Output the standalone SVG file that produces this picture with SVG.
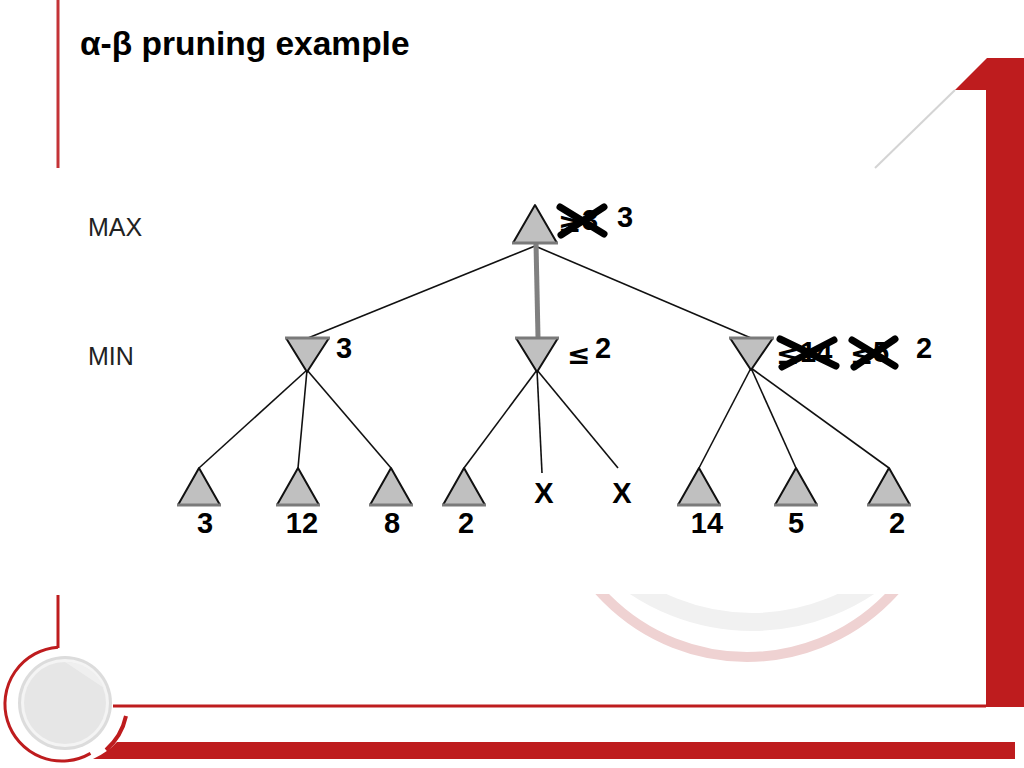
<svg xmlns="http://www.w3.org/2000/svg" width="1024" height="768" viewBox="0 0 1024 768">
<style>
.red{fill:#be1c1e}
.tri{fill:#c0c0c0;stroke:#111;stroke-width:2;stroke-linejoin:round}
.base{stroke:#7a7a7a;stroke-width:3}
.edge{stroke:#111;stroke-width:1.6;fill:none}
.lbl{font-family:"Liberation Sans",Arial,sans-serif;font-weight:bold;font-size:29px;fill:#000}
.sym{font-family:"DejaVu Sans",sans-serif;font-weight:bold;font-size:28px;fill:#000}
.lvl{font-family:"Liberation Sans",Arial,sans-serif;font-size:25px;fill:#222}
.cross{stroke:#000;stroke-width:7;stroke-linecap:round}
</style>
<defs>
<clipPath id="bgclip"><rect x="0" y="594" width="1024" height="120"/></clipPath>
</defs>
<rect width="1024" height="768" fill="#ffffff"/>
<g id="decor">
<line x1="58" y1="0" x2="58" y2="168" stroke="#c43337" stroke-width="3"/>
<polygon class="red" points="955,90 987,58 1024,58 1024,707 986,707 986,90"/>
<line x1="955" y1="90" x2="875" y2="168" stroke="#d4d4d4" stroke-width="2"/>
<g clip-path="url(#bgclip)">
<circle cx="752" cy="411" r="211" fill="none" stroke="#f1f1f1" stroke-width="18"/>
<circle cx="747" cy="459" r="198" fill="none" stroke="#efd2d2" stroke-width="10"/>
</g>
<rect class="red" x="113" y="704.5" width="873" height="3"/>
<path class="red" d="M117 742 L1015 742 L1015 759 L93 759 Q108 752 117 742 Z"/>
<line x1="58" y1="595" x2="58" y2="648" stroke="#be1c1e" stroke-width="3"/>
<path d="M58 647.2 A57 57 0 1 0 90.5 753.4" fill="none" stroke="#be1c1e" stroke-width="3"/>
<path d="M126 716 A63 63 0 0 1 106 750" fill="none" stroke="#be1c1e" stroke-width="4"/>
<circle cx="65" cy="703" r="47" fill="#dcdcdc"/>
<circle cx="65" cy="703" r="44" fill="#f4f4f4"/>
<circle cx="65" cy="703" r="41" fill="#e6e6e6"/>
<path d="M65 662 L104 688 A41 41 0 0 0 65 662 Z" fill="#efefef"/>
</g>
<text x="80" y="55" font-family="'Liberation Sans',Arial,sans-serif" font-weight="bold" font-size="33.5" fill="#000">α-β pruning example</text>
<text class="lvl" x="88" y="236">MAX</text>
<text class="lvl" x="88" y="365">MIN</text>
<g id="connectors">
<line class="edge" x1="535" y1="246" x2="308" y2="338"/>
<line class="edge" x1="535" y1="246" x2="751" y2="338"/>
<line x1="536" y1="243" x2="538" y2="337" stroke="#808080" stroke-width="5"/>
<line class="edge" x1="307" y1="370" x2="199" y2="468"/>
<line class="edge" x1="307" y1="370" x2="298" y2="468"/>
<line class="edge" x1="307" y1="370" x2="391" y2="468"/>
<line class="edge" x1="537" y1="370" x2="464" y2="468"/>
<line class="edge" x1="537" y1="370" x2="542" y2="473"/>
<line class="edge" x1="537" y1="370" x2="618" y2="468"/>
<line class="edge" x1="751" y1="368" x2="699" y2="468"/>
<line class="edge" x1="751" y1="368" x2="796" y2="468"/>
<line class="edge" x1="751" y1="368" x2="889" y2="468"/>
</g>
<g id="root">
<polygon class="tri" points="535,205 557,243 513,243"/>
<line class="base" x1="512" y1="243" x2="558" y2="243"/>
<text class="sym" x="558" y="232">≥</text>
<text class="lbl" x="582" y="230">3</text>
<line class="cross" x1="560" y1="207" x2="604" y2="234"/>
<line class="cross" x1="561" y1="235" x2="604" y2="207"/>
<text class="lbl" x="617" y="227">3</text>
</g>
<g id="min1">
<polygon class="tri" points="286,338 329,338 307,372"/>
<line class="base" x1="285" y1="338" x2="330" y2="338"/>
<text class="lbl" x="336" y="358">3</text>
</g>
<g id="min2">
<polygon class="tri" points="516,338 558,338 537,372"/>
<line class="base" x1="515" y1="338" x2="559" y2="338"/>
<text class="sym" x="567" y="364" font-size="36">≤</text>
<text class="lbl" x="595" y="358">2</text>
</g>
<g id="min3">
<polygon class="tri" points="730,338 773,338 751,370"/>
<line class="base" x1="729" y1="338" x2="774" y2="338"/>
<text class="sym" x="776" y="364">≤</text>
<text class="lbl" x="800" y="362">14</text>
<line class="cross" x1="780" y1="339" x2="836" y2="366"/>
<line class="cross" x1="782" y1="367" x2="834" y2="340"/>
<text class="sym" x="850" y="364">≤</text>
<text class="lbl" x="873" y="362">5</text>
<line class="cross" x1="852" y1="340" x2="895" y2="366"/>
<line class="cross" x1="854" y1="367" x2="895" y2="339"/>
<text class="lbl" x="916" y="358">2</text>
</g>
<g id="leaf1"><polygon class="tri" points="199,468 220,505 178,505"/><line class="base" x1="177" y1="505" x2="221" y2="505"/><text class="lbl" x="205" y="533" text-anchor="middle">3</text></g>
<g id="leaf2"><polygon class="tri" points="298,468 319,505 277,505"/><line class="base" x1="276" y1="505" x2="320" y2="505"/><text class="lbl" x="302" y="533" text-anchor="middle">12</text></g>
<g id="leaf3"><polygon class="tri" points="391,468 412,505 370,505"/><line class="base" x1="369" y1="505" x2="413" y2="505"/><text class="lbl" x="392" y="533" text-anchor="middle">8</text></g>
<g id="leaf4"><polygon class="tri" points="464,468 485,505 443,505"/><line class="base" x1="442" y1="505" x2="486" y2="505"/><text class="lbl" x="466" y="533" text-anchor="middle">2</text></g>
<g id="leaf5"><text class="lbl" x="544" y="503" text-anchor="middle" font-size="32">X</text></g>
<g id="leaf6"><text class="lbl" x="622" y="503" text-anchor="middle" font-size="32">X</text></g>
<g id="leaf7"><polygon class="tri" points="699,468 720,505 678,505"/><line class="base" x1="677" y1="505" x2="721" y2="505"/><text class="lbl" x="707" y="533" text-anchor="middle">14</text></g>
<g id="leaf8"><polygon class="tri" points="796,468 817,505 775,505"/><line class="base" x1="774" y1="505" x2="818" y2="505"/><text class="lbl" x="796" y="533" text-anchor="middle">5</text></g>
<g id="leaf9"><polygon class="tri" points="889,468 910,505 868,505"/><line class="base" x1="867" y1="505" x2="911" y2="505"/><text class="lbl" x="897" y="533" text-anchor="middle">2</text></g>
</svg>
